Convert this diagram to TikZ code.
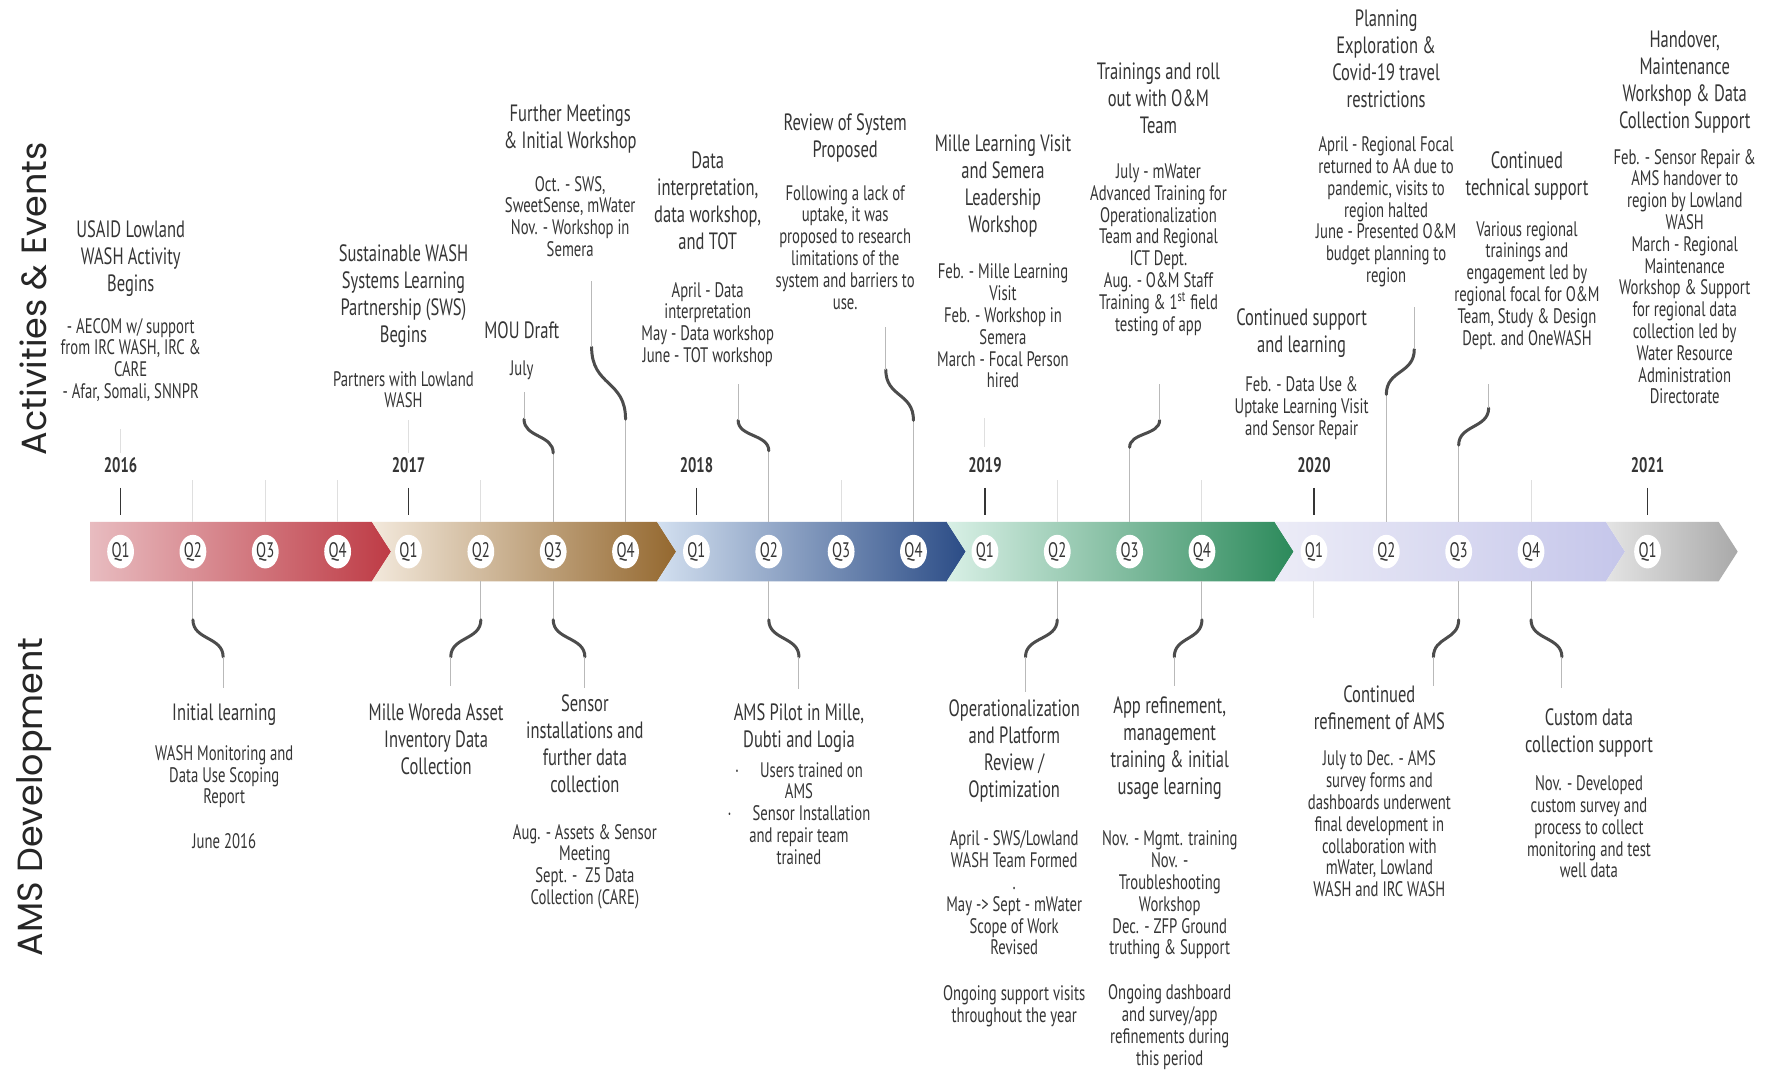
\documentclass[tikz,border=0pt]{standalone}
\usepackage{fontspec}
\setmainfont{PT Sans}[FakeStretch=0.7]
\newfontfamily\sidefont{Poppins}
\usepackage{tikz}
\usetikzlibrary{shapes.geometric}
\usepackage{xcolor}
\definecolor{textgray}{HTML}{353535}
\definecolor{redL}{HTML}{E8BCC0}
\definecolor{redR}{HTML}{BE3B45}
\definecolor{tanL}{HTML}{F3E9DC}
\definecolor{tanR}{HTML}{94682F}
\definecolor{blueL}{HTML}{D3E0F0}
\definecolor{blueR}{HTML}{2B4C86}
\definecolor{greenL}{HTML}{D9F0E6}
\definecolor{greenR}{HTML}{2C8A5B}
\definecolor{lavL}{HTML}{ECECF7}
\definecolor{lavR}{HTML}{C5C6EA}
\definecolor{greyL}{HTML}{E4E4E4}
\definecolor{greyR}{HTML}{A9A9A9}

% connector: quarter, x of far stem, y of swirl near bar, y of swirl far end, text node, gap
\newcommand{\curlyup}[6]{%
  \draw[stem]  (#1 |- bartop) -- (#1 |- 0,#3);
  \draw[swirl] (#1 |- 0,#3) .. controls +(0,{-0.55*(#3-#4)}) and +(0,{0.55*(#3-#4)}) .. (#2,#4);
  \draw[stem, shorten >=#6] (#2,#4) -- (#2,0 |- #5.south);
}
\newcommand{\curlydown}[6]{%
  \draw[stem]  (#1 |- barbot) -- (#1 |- 0,#3);
  \draw[swirl] (#1 |- 0,#3) .. controls +(0,{0.55*(#4-#3)}) and +(0,{-0.55*(#4-#3)}) .. (#2,#4);
  \draw[stem, shorten >=#6] (#2,#4) -- (#2,0 |- #5.north);
}

\begin{document}
\begin{tikzpicture}[
    x=0.5635pt, y=-0.5635pt,
    ttl/.style      = {align=center, inner sep=0pt, anchor=north, text=textgray,
                       font=\fontsize{11.8}{13.5}\selectfont},
    txt/.style      = {align=center, inner sep=0pt, anchor=north, text=textgray,
                       font=\fontsize{10.5}{10.9}\selectfont},
    yr/.style       = {text=textgray, font=\fontsize{10.5}{12}\selectfont\bfseries},
    qdot/.style     = {ellipse, fill=white, inner sep=0pt, minimum width=13.4pt,
                       minimum height=16.8pt, text=textgray, font=\fontsize{10.5}{11}\selectfont},
    sidelab/.style  = {rotate=90, text=black!85, font=\sidefont\fontsize{17.5}{20}\selectfont},
    stem/.style     = {draw=gray!55, line width=0.5pt},
    swirl/.style    = {draw=black!70, line width=1.5pt, line cap=round},
    faint/.style    = {draw=gray!25, line width=0.5pt},
    yeartick/.style = {draw=textgray, line width=0.9pt},
  ]

    \path[use as bounding box, fill=white] (0,0) rectangle (1568,957);

    %% ── Timeline bar ────────────────────────────────────────────────────────
    \coordinate (bartop) at (0,463);
    \coordinate (barbot) at (0,516);
    \foreach \l/\r/\n/\ca/\cb in {80/330/0/redL/redR, 330/583/17/tanL/tanR,
                                   583/840/17/blueL/blueR, 840/1131/17/greenL/greenR,
                                   1131/1425/17/lavL/lavR, 1425/1525/17/greyL/greyR}
      \shade[left color=\ca, right color=\cb]
        (\l,463) -- (\r,463) -- ({\r+17},489.5) -- (\r,516) -- (\l,516) -- ({\l+\n},489.5) -- cycle;

    %% quarters
    \foreach \yr/\xa in {16/107, 17/362.5, 18/618, 19/874, 20/1166}
      \foreach \k in {1,...,4}
        \node[qdot] (q\yr\k) at ({\xa+64.2*(\k-1)},489.5) {Q\k};
    \node[qdot] (q211) at (1462,489.5) {Q1};

    %% years
    \foreach \yr/\q in {2016/q161, 2017/q171, 2018/q181, 2019/q191, 2020/q201, 2021/q211} {
      \node[yr] (y\yr) at (\q |- 0,413) {\yr};
      \draw[yeartick] (\q |- 0,433) -- (\q |- 0,457);
    }
    \foreach \q in {q162,q163,q164,q172,q183,q192,q194,q204}
      \draw[faint] (\q |- 0,426) -- (\q |- bartop);
    \foreach \q/\a/\b in {q161/381/402, q171/373/402, q191/371/397}
      \draw[faint] (\q |- 0,\a) -- (\q |- 0,\b);
    \draw[faint] (q201 |- barbot) -- (q201 |- 0,548);

    %% ── Side labels ─────────────────────────────────────────────────────────
    \node[sidelab] (acts) at (30,265) {Activities \& Events};
    \node[sidelab] (ams)  at (30,707) {AMS Development};

    %% ── Activities & Events ─────────────────────────────────────────────────
    \node[ttl] (usaid)    at (116,195.5) {USAID Lowland\\WASH Activity\\Begins};
    \node[txt] (usaid-b)  at (116,282)   {- AECOM w/ support\\from IRC WASH, IRC \&\\CARE\\- Afar, Somali, SNNPR};
    \node[ttl] (sws)      at (358,216.5) {Sustainable WASH\\Systems Learning\\Partnership (SWS)\\Begins};
    \node[txt] (sws-b)    at (358,329)   {Partners with Lowland\\WASH};
    \node[ttl] (mou)      at (463,285.5) {MOU Draft};
    \node[txt] (mou-b)    at (463,320)   {July};
    \node[ttl] (meet)     at (506,92.5)  {Further Meetings\\\& Initial Workshop};
    \node[txt] (meet-b)   at (506,156)   {Oct. - SWS,\\SweetSense, mWater\\Nov. - Workshop in\\Semera};
    \node[ttl] (interp)   at (628,134.5) {Data\\interpretation,\\data workshop,\\and TOT};
    \node[txt] (interp-b) at (628,250)   {April - Data\\interpretation\\May - Data workshop\\June - TOT workshop};
    \node[ttl] (review)   at (750,100.5) {Review of System\\Proposed};
    \node[txt] (review-b) at (750,164)   {Following a lack of\\uptake, it was\\proposed to research\\limitations of the\\system and barriers to\\use.};
    \node[ttl] (mille)    at (890,119.5) {Mille Learning Visit\\and Semera\\Leadership\\Workshop};
    \node[txt] (mille-b)  at (890,234)   {Feb. - Mille Learning\\Visit\\Feb. - Workshop in\\Semera\\March - Focal Person\\hired};
    \node[ttl] (train)    at (1028,55.5) {Trainings and roll\\out with O\&M\\Team};
    \node[txt] (train-b)  at (1028,145)  {July - mWater\\Advanced Training for\\Operationalization\\Team and Regional\\ICT Dept.\\Aug. - O\&M Staff\\Training \& 1\textsuperscript{st} field\\testing of app};
    \node[ttl] (support)  at (1155,273.5) {Continued support\\and learning};
    \node[txt] (support-b) at (1155,334) {Feb. - Data Use \&\\Uptake Learning Visit\\and Sensor Repair};
    \node[ttl] (plan)     at (1230,8.5)  {Planning\\Exploration \&\\Covid-19 travel\\restrictions};
    \node[txt] (plan-b)   at (1230,121)  {April - Regional Focal\\returned to AA due to\\pandemic, visits to\\region halted\\June - Presented O\&M\\budget planning to\\region};
    \node[ttl] (techsup)  at (1355,134.5) {Continued\\technical support};
    \node[txt] (techsup-b) at (1355,196) {Various regional\\trainings and\\engagement led by\\regional focal for O\&M\\Team, Study \& Design\\Dept. and OneWASH};
    \node[ttl] (handover) at (1495,27.5) {Handover,\\Maintenance\\Workshop \& Data\\Collection Support};
    \node[txt] (handover-b) at (1495,132) {Feb. - Sensor Repair \&\\AMS handover to\\region by Lowland\\WASH\\March - Regional\\Maintenance\\Workshop \& Support\\for regional data\\collection led by\\Water Resource\\Administration\\Directorate};

    %% ── AMS Development ─────────────────────────────────────────────────────
    \node[ttl] (init)     at (199,624.5) {Initial learning};
    \node[txt] (init-b)   at (199,661)   {WASH Monitoring and\\Data Use Scoping\\Report\\[11.5pt]June 2016};
    \node[ttl] (woreda)   at (387,624.5) {Mille Woreda Asset\\Inventory Data\\Collection};
    \node[ttl] (sensor)   at (519,616.5) {Sensor\\installations and\\further data\\collection};
    \node[txt] (sensor-b) at (519,731)   {Aug. - Assets \& Sensor\\Meeting\\Sept. -\ \ Z5 Data\\Collection (CARE)};
    \node[ttl] (pilot)    at (709,624.5) {AMS Pilot in Mille,\\Dubti and Logia};
    \node[txt] (pilot-b)  at (709,676)   {·\hspace{1em}Users trained on\\AMS\\·\hspace{1em}Sensor Installation\\and repair team\\trained};
    \node[ttl] (oper)     at (900,620.5) {Operationalization\\and Platform\\Review /\\Optimization};
    \node[txt] (oper-b)   at (900,737)   {April - SWS/Lowland\\WASH Team Formed\\.\\May -> Sept - mWater\\Scope of Work\\Revised\\[12pt]Ongoing support visits\\throughout the year};
    \node[ttl] (app)      at (1038,617.5) {App refinement,\\management\\training \& initial\\usage learning};
    \node[txt] (app-b)    at (1038,737)  {Nov. - Mgmt. training\\Nov. -\\Troubleshooting\\Workshop\\Dec. - ZFP Ground\\truthing \& Support\\[11.5pt]Ongoing dashboard\\and survey/app\\refinements during\\this period};
    \node[ttl] (refine)   at (1224,608.5) {Continued\\refinement of AMS};
    \node[txt] (refine-b) at (1224,666)  {July to Dec. - AMS\\survey forms and\\dashboards underwent\\final development in\\collaboration with\\mWater, Lowland\\WASH and IRC WASH};
    \node[ttl] (custom)   at (1410,628.5) {Custom data\\collection support};
    \node[txt] (custom-b) at (1410,688)  {Nov. - Developed\\custom survey and\\process to collect\\monitoring and test\\well data};

    %% ── Connectors ──────────────────────────────────────────────────────────
    \curlyup{q173}{465}{402}{372}{mou-b}{5.6pt}
    \curlyup{q174}{525}{372}{308}{meet-b}{12pt}
    \curlyup{q182}{655}{400}{373}{interp-b}{8.5pt}
    \curlyup{q184}{786}{373}{328}{review-b}{8.5pt}
    \curlyup{q193}{1029}{397}{373}{train-b}{24pt}
    \curlyup{q202}{1255}{350}{310}{plan-b}{9.6pt}
    \curlyup{q203}{1321}{395}{362}{techsup-b}{17pt}

    \curlydown{q162}{198}{550}{583}{init}{8pt}
    \curlydown{q172}{400}{550}{583}{woreda}{9pt}
    \curlydown{q173}{519}{550}{583}{sensor}{3.5pt}
    \curlydown{q182}{709}{550}{583}{pilot}{7.5pt}
    \curlydown{q192}{910}{550}{583}{oper}{3.5pt}
    \curlydown{q194}{1042}{550}{583}{app}{4.8pt}
    \curlydown{q203}{1272}{550}{583}{refine}{0pt}
    \curlydown{q204}{1386}{550}{583}{custom}{10pt}

  \end{tikzpicture}
\end{document}
